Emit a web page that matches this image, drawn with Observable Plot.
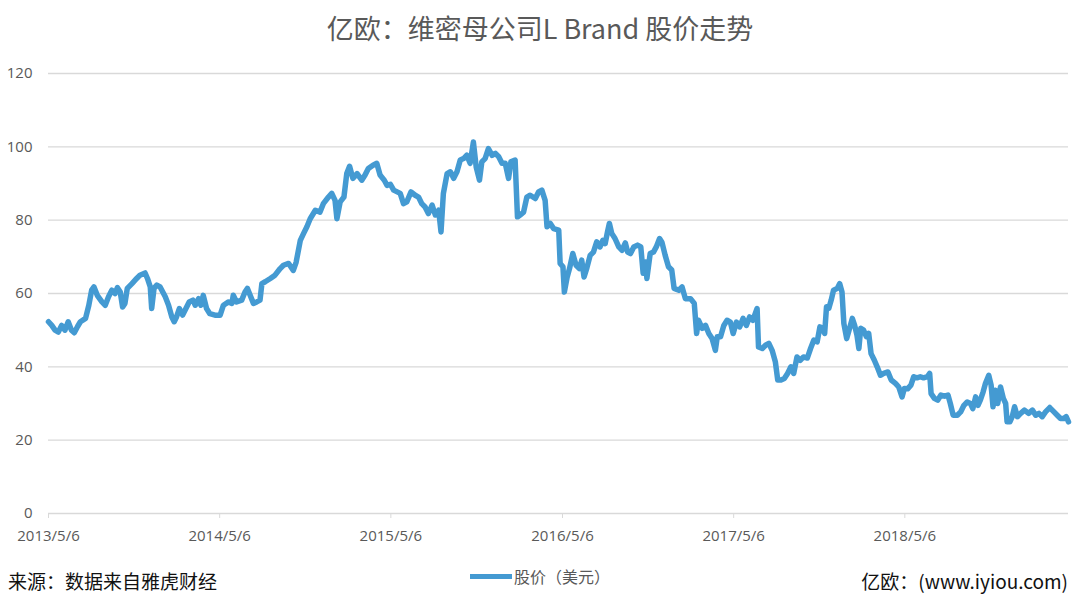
<!DOCTYPE html>
<html>
<head>
<meta charset="utf-8">
<script src="https://cdn.jsdelivr.net/npm/d3@7"></script>
<script src="https://cdn.jsdelivr.net/npm/@observablehq/plot@0.6"></script>
<style>
  body { margin: 0; background: #fff; }
  #wrap { position: relative; width: 1080px; height: 598px; font-family: "Noto Sans CJK SC", "Open Sans", sans-serif; overflow: hidden; }
  #title { position: absolute; top: 0; left: 0; width: 1080px; height: 55px; line-height: 55px; text-align: center; font-size: 27px; color: #595959; }
  #chart { position: absolute; top: 55px; left: 0; }
  #source { position: absolute; left: 8px; top: 567px; height: 28px; line-height: 28px; font-size: 19px; color: #111; }
  #credit { position: absolute; right: 12px; top: 567px; height: 28px; line-height: 28px; font-size: 19px; color: #111; }
  #legend { position: absolute; left: 470px; top: 563px; height: 26px; line-height: 26px; font-size: 16px; color: #595959; display: flex; align-items: center; }
  #legend .sw { display: inline-block; width: 42px; height: 5px; background: #449ad2; margin-right: 2px; }
</style>
</head>
<body>
<div id="wrap">
  <div id="title"></div>
  <div id="chart"></div>
  <div id="legend"><span class="sw"></span><span id="legendText"></span></div>
  <div id="source"></div>
  <div id="credit"></div>
</div>
<script>
const titleText = "亿欧：维密母公司L Brand 股价走势";
const seriesName = "股价（美元）";
const sourceText = "来源：数据来自雅虎财经";
const creditText = "亿欧：(www.iyiou.com)";

const yTicks = [0, 20, 40, 60, 80, 100, 120];
const xTickDates = ["2013-05-06", "2014-05-06", "2015-05-06", "2016-05-06", "2017-05-06", "2018-05-06"];
const xDomain = ["2013-05-06", "2019-04-20"];

const dates = [
"2013-05-06","2013-05-13","2013-05-20","2013-05-27","2013-06-03","2013-06-10","2013-06-17","2013-06-24","2013-06-30","2013-07-07","2013-07-13","2013-07-24","2013-07-31","2013-08-06","2013-08-11","2013-08-18","2013-08-28","2013-09-04","2013-09-11","2013-09-18","2013-09-25","2013-09-30","2013-10-06","2013-10-11","2013-10-16","2013-10-21","2013-10-31","2013-11-10","2013-11-17","2013-11-28","2013-12-03","2013-12-09","2013-12-12","2013-12-17","2013-12-23","2013-12-30",
"2014-01-10","2014-01-17","2014-01-24","2014-01-29","2014-02-03","2014-02-09","2014-02-16","2014-02-23","2014-03-02","2014-03-10","2014-03-15","2014-03-22","2014-03-27","2014-04-01","2014-04-08","2014-04-15","2014-04-26","2014-05-07","2014-05-14","2014-05-25","2014-06-01","2014-06-04","2014-06-11","2014-06-22","2014-06-29","2014-07-04","2014-07-10","2014-07-17","2014-07-24","2014-07-31","2014-08-04","2014-08-11","2014-08-22","2014-09-01","2014-09-12","2014-09-19","2014-09-30","2014-10-10","2014-10-16","2014-10-25","2014-11-01","2014-11-08","2014-11-15","2014-11-26","2014-12-06","2014-12-13","2014-12-24","2014-12-31",
"2015-01-07","2015-01-11","2015-01-18","2015-01-26","2015-02-01","2015-02-07","2015-02-14","2015-02-23","2015-03-05","2015-03-12","2015-03-19","2015-03-29","2015-04-06","2015-04-13","2015-04-22","2015-04-28","2015-05-05","2015-05-12","2015-05-26","2015-06-02","2015-06-09","2015-06-18","2015-06-27","2015-07-04","2015-07-11","2015-07-18","2015-07-25","2015-08-02","2015-08-09","2015-08-16","2015-08-21","2015-08-26","2015-09-03","2015-09-10","2015-09-17","2015-09-24","2015-10-01","2015-10-08","2015-10-15","2015-10-22","2015-10-29","2015-11-04","2015-11-11","2015-11-16","2015-11-23","2015-11-30","2015-12-08","2015-12-15","2015-12-22","2015-12-29",
"2016-01-05","2016-01-12","2016-01-17","2016-01-26","2016-01-31","2016-02-06","2016-02-13","2016-02-20","2016-02-27","2016-03-09","2016-03-16","2016-03-23","2016-03-30","2016-04-03","2016-04-10","2016-04-17","2016-04-28","2016-05-01","2016-05-07","2016-05-10","2016-05-16","2016-05-21","2016-05-28","2016-06-04","2016-06-11","2016-06-16","2016-06-21","2016-06-27","2016-07-04","2016-07-11","2016-07-18","2016-07-25","2016-07-31","2016-08-05","2016-08-10","2016-08-14","2016-08-19","2016-08-26","2016-09-03","2016-09-10","2016-09-17","2016-09-22","2016-09-28","2016-10-05","2016-10-13","2016-10-20","2016-10-25","2016-10-30","2016-11-02","2016-11-09","2016-11-16","2016-11-22","2016-11-29","2016-12-04","2016-12-11","2016-12-18","2016-12-25","2016-12-30",
"2017-01-09","2017-01-16","2017-01-23","2017-02-03","2017-02-11","2017-02-16","2017-02-20","2017-02-28","2017-03-07","2017-03-14","2017-03-21","2017-03-28","2017-04-01","2017-04-08","2017-04-15","2017-04-22","2017-04-29","2017-05-05","2017-05-12","2017-05-19","2017-05-26","2017-06-02","2017-06-09","2017-06-16","2017-06-25","2017-06-28","2017-07-06","2017-07-13","2017-07-20","2017-07-27","2017-08-03","2017-08-08","2017-08-15","2017-08-22","2017-08-29","2017-09-05","2017-09-11","2017-09-18","2017-09-25","2017-10-02","2017-10-10","2017-10-17","2017-10-24","2017-10-31","2017-11-06","2017-11-11","2017-11-16","2017-11-20","2017-11-25","2017-11-30","2017-12-05","2017-12-13","2017-12-18","2017-12-23","2017-12-27",
"2018-01-02","2018-01-06","2018-01-14","2018-01-19","2018-01-24","2018-01-28","2018-02-01","2018-02-07","2018-02-13","2018-02-18","2018-02-23","2018-03-02","2018-03-08","2018-03-15","2018-03-22","2018-03-31","2018-04-07","2018-04-16","2018-04-23","2018-04-30","2018-05-05","2018-05-12","2018-05-19","2018-05-25","2018-06-01","2018-06-08","2018-06-15","2018-06-23","2018-06-28","2018-07-01","2018-07-08","2018-07-15","2018-07-22","2018-07-30","2018-08-06","2018-08-11","2018-08-17","2018-08-26","2018-09-02","2018-09-09","2018-09-16","2018-09-23","2018-09-28","2018-10-04","2018-10-09","2018-10-14","2018-10-20","2018-10-25","2018-11-01","2018-11-06","2018-11-10","2018-11-15","2018-11-20","2018-11-26","2018-12-02","2018-12-07","2018-12-10","2018-12-16","2018-12-21","2018-12-26",
"2019-01-01","2019-01-08","2019-01-16","2019-01-25","2019-02-02","2019-02-09","2019-02-16","2019-02-23","2019-03-02","2019-03-11","2019-03-20","2019-03-27","2019-04-03","2019-04-10","2019-04-15","2019-04-20"
];

const prices = [
52.3,51.3,50,49.5,51.3,50,52.3,50,49.3,51,52.3,53.2,56.8,60.9,61.8,59.5,57.7,56.8,59.1,60.9,60,61.6,60.4,56.3,57.3,61.4,62.7,64.1,65,65.6,64.1,61.8,55.9,61.4,62.3,61.8,
59.1,56.8,53.6,52.3,53.6,55.9,54.1,55.9,57.7,58.2,56.8,58.6,56.8,59.5,55.9,54.5,54.1,54.1,56.8,57.7,57.3,59.5,57.7,58.2,60.4,61.4,59.5,57.3,57.7,58.2,62.7,63.2,64.1,65,66.8,67.7,68.2,66.3,68.5,74.5,76.4,78.2,80.4,82.7,82.2,84.5,86.3,87.3,
85.4,80.4,85,86.3,92.7,94.7,91.4,92.7,90.9,92.3,94.1,95,95.5,92.3,90.9,89.5,89.8,88.2,87.3,84.5,85,87.7,86.8,86.3,84.5,83.6,81.8,84.1,81.4,82.7,76.8,87.3,92.7,93.2,91.4,93.2,96.4,96.8,97.7,95.5,101.3,94.5,90.9,95.9,96.8,99.5,97.7,98.2,97.3,95.5,
95.5,91.4,95.9,96.4,80.9,81.4,82.2,86.3,86.8,85.9,87.7,88.2,85.4,78.2,79.1,77.7,77.3,68.2,67.3,60.4,64.5,66.8,70.9,67.7,66.8,69.1,64.5,67,70.4,71.3,74.1,72.7,74.5,73.6,76.8,79.1,76.4,75,72.7,71.8,73.8,71.3,70.9,72.7,73.2,72.7,65.5,68.6,64.1,70.9,71.3,72.7,75,74,70.4,67.3,66.4,61.4,
60.9,61.8,58.6,58.6,57.3,49.1,52.7,50.5,51.3,49.1,47.7,44.5,48.2,48.2,51.3,52.7,52.2,49.1,52.2,50.9,53.2,51.3,53.6,52.7,55.9,45.4,45,45.9,46.4,44.5,41.3,36.4,36.4,36.8,38.2,40,38.2,42.7,41.8,42.7,42.4,45,47.3,46.8,50.9,50.5,49.1,56.4,56,58.2,60.9,61.4,62.7,60.4,51.8,
47.7,49.5,53.2,51.3,48.6,45,50.5,50,48.2,49.1,43.6,41.8,40,37.7,38.2,38.6,36.4,35.5,34.5,31.8,34.1,34,35,37.3,37,37.3,37,37.3,38.2,32.7,31.4,30.9,32.3,32,32.3,30,26.8,26.8,27.7,29.5,30.4,30,28.6,31.8,29.5,30.9,33.2,35.5,37.7,35,29.1,33.6,30,34.5,31.4,30,25,25,26.4,29.1,
26.4,27.3,28.2,27.3,28.2,26.8,27.3,26.4,27.7,28.9,27.7,26.8,25.9,25.9,26.4,25
];

const parse = d3.utcParse("%Y-%m-%d");
const data = dates.map((d, i) => ({date: parse(d), price: prices[i]}));

document.getElementById("title").textContent = titleText;
document.getElementById("legendText").textContent = seriesName;
document.getElementById("source").textContent = sourceText;
document.getElementById("credit").textContent = creditText;

const chart = Plot.plot({
  width: 1080,
  height: 503,
  marginTop: 18,
  marginBottom: 45,
  marginLeft: 48,
  marginRight: 12,
  style: {fontFamily: "'Open Sans', sans-serif", fontSize: "15px", color: "#595959", background: "#fff"},
  x: {type: "utc", domain: xDomain.map(parse), label: null},
  y: {domain: [0, 120], label: null},
  marks: [
    Plot.gridY(yTicks, {stroke: "#d9d9d9", strokeOpacity: 1, strokeWidth: 1.3}),
    Plot.axisY(yTicks, {tickSize: 0, tickPadding: 16, fill: "#595959", fontSize: 15, label: null}),
    Plot.axisX(xTickDates.map(parse), {tickSize: 5, tickPadding: 12, stroke: "#d9d9d9", fill: "#595959", fontSize: 15, label: null, tickFormat: d3.utcFormat("%Y/%-m/%-d")}),
    Plot.lineY(data, {x: "date", y: "price", stroke: "#449ad2", strokeWidth: 5.5, strokeLinejoin: "round", strokeLinecap: "round"})
  ]
});
document.getElementById("chart").appendChild(chart);
</script>
</body>
</html>
